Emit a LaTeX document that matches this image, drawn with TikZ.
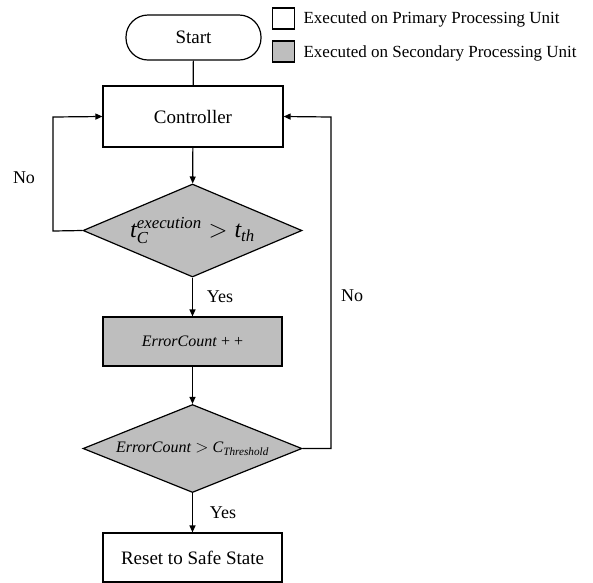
\documentclass[tikz,border=0pt]{standalone}
\usepackage{amsmath}
\usepackage{fontspec}
\setmainfont{Liberation Serif}
\usetikzlibrary{arrows.meta,shapes.geometric}
\definecolor{boxgray}{RGB}{190,190,190}
\begin{document}
\begin{tikzpicture}[x=1pt,y=-1pt,
  line width=1.2pt,
  arr/.style={-{Triangle[length=7pt,width=6pt]}},
  mainfont/.style={font=\fontsize{19}{22}\selectfont},
  procbox/.style={draw, rectangle, minimum width=179pt, minimum height=49pt, inner sep=0pt, mainfont},
  decbox/.style={draw, diamond, fill=boxgray, inner sep=0pt, minimum width=219pt},
  legbox/.style={draw, rectangle, minimum width=22pt, minimum height=21pt, inner sep=0pt},
  legtext/.style={anchor=west, inner sep=0pt, font=\fontsize{17}{20}\selectfont},
  lbl/.style={inner sep=0pt, font=\fontsize{18}{21}\selectfont}]
\useasboundingbox (0,0) rectangle (593,582);

\node[draw, rectangle, rounded corners=22pt, minimum width=135pt, minimum height=45pt, mainfont] (start) at (193.5,37.5) {Start};
\node[procbox, minimum height=61pt, minimum width=180pt] (ctrl) at (193,116.5) {Controller};
\node[decbox, aspect=2.35, minimum height=93pt] (d1) at (192.5,230.5)
  {\fontsize{24}{28}\selectfont $\textit{t}^{\textit{execution}}_{\textit{C}} > \textit{t}_{\textit{th}}$};
\node[procbox, fill=boxgray] (ec) at (192.5,341.5) {\fontsize{16}{19}\selectfont\textit{ErrorCount} + +};
\node[decbox, aspect=2.49, minimum height=88pt] (d2) at (192.5,448.5)
  {\fontsize{16}{19}\selectfont\textit{ErrorCount} $>$ \textit{C}$_{\textit{Threshold}}$};
\node[procbox, minimum height=49pt] (reset) at (192.5,557.5) {Reset to Safe State};

\node[legbox] (lg1) at (283.5,18.5) {};
\node[legbox, fill=boxgray] (lg2) at (283.5,51.5) {};
\node[legtext] (lt1) at (303,19) {Executed on Primary Processing Unit};
\node[legtext] (lt2) at (303,53) {Executed on Secondary Processing Unit};

\coordinate (l1) at (53,231);
\coordinate (l2) at (53,117);
\coordinate (r1) at (331,448.5);
\coordinate (r2) at (331,117);

\draw (start) -- (ctrl);
\draw[arr] (ctrl) -- (d1);
\draw[arr] (d1) -- (ec);
\draw[arr] (ec) -- (d2);
\draw[arr] (d2) -- (reset);
\draw[arr] (d1.west) -- (l1) -- (l2) -- (ctrl.west);
\draw[arr] (d2.east) -- (r1) -- (r2) -- (ctrl.east);

\node[lbl] (no1) at (24,178) {No};
\node[lbl] (no2) at (352,296) {No};
\node[lbl] (yes1) at (220,297) {Yes};
\node[lbl] (yes2) at (223,513) {Yes};
\end{tikzpicture}
\end{document}
